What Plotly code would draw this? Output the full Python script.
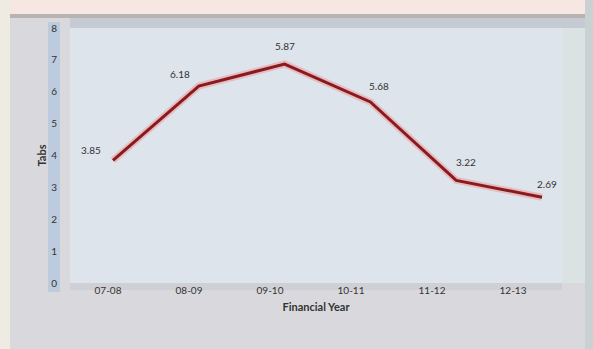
import plotly.graph_objects as go

years = ["07-08", "08-09", "09-10", "10-11", "11-12", "12-13"]
tabs = [3.85, 6.18, 6.87, 5.68, 3.22, 2.69]
value_labels = ["3.85", "6.18", "5.87", "5.68", "3.22", "2.69"]
y_ticks = [0, 1, 2, 3, 4, 5, 6, 7, 8]

# label offsets (pixels) relative to each point - styling only
label_dx = [-22, -19, 0, 9, 10, 5]
label_dy = [10, 12, 18, 16, 18, 13]

W, H = 593, 349
L, R, T, B = 70, 31, 28, 66
pw, ph = W - L - R, H - T - B


def px(x):
    return (x - L) / pw


def py(y):
    return (H - B - y) / ph


fig = go.Figure()
fig.add_trace(go.Scatter(x=years, y=tabs, mode="lines", xaxis="x2",
                         line=dict(color="rgba(240,140,140,0.45)", width=7),
                         hoverinfo="skip", showlegend=False))
fig.add_trace(go.Scatter(x=years, y=tabs, mode="lines", xaxis="x2",
                         line=dict(color="#8a1a1e", width=3),
                         showlegend=False))
# invisible trace to carry the category tick axis
fig.add_trace(go.Scatter(x=years, y=tabs, mode="markers", xaxis="x",
                         marker=dict(opacity=0), hoverinfo="skip", showlegend=False))

annotations = []
for yr, v, lab, dx, dy in zip(years, tabs, value_labels, label_dx, label_dy):
    annotations.append(dict(x=yr, y=v, xref="x2", yref="y", text=lab, showarrow=False,
                            xshift=dx, yshift=dy,
                            font=dict(family="Lato", size=10, color="#333333")))

shapes = [
    dict(type="rect", xref="paper", yref="paper", x0=px(0), x1=px(10), y0=py(H), y1=py(0),
         fillcolor="#eeece2", line_width=0, layer="below"),
    dict(type="rect", xref="paper", yref="paper", x0=px(585), x1=px(W), y0=py(H), y1=py(0),
         fillcolor="#c9d1d3", line_width=0, layer="below"),
    dict(type="rect", xref="paper", yref="paper", x0=px(10), x1=px(585), y0=py(15), y1=py(0),
         fillcolor="#f7e7e3", line_width=0, layer="below"),
    dict(type="rect", xref="paper", yref="paper", x0=px(10), x1=px(585), y0=py(18), y1=py(14),
         fillcolor="#b9b2b2", line_width=0, layer="below"),
    dict(type="rect", xref="paper", yref="paper", x0=px(70), x1=px(585), y0=py(28), y1=py(18),
         fillcolor="#c6cbd3", line_width=0, layer="below"),
    dict(type="rect", xref="paper", yref="paper", x0=px(562), x1=px(585), y0=py(283), y1=py(28),
         fillcolor="#dae3e1", line_width=0, layer="below"),
    dict(type="rect", xref="paper", yref="paper", x0=px(48), x1=px(60), y0=py(292), y1=py(22),
         fillcolor="#bccbdd", line_width=0, layer="below"),
    dict(type="rect", xref="paper", yref="paper", x0=px(70), x1=px(562), y0=py(283), y1=py(28),
         fillcolor="#dde4ec", line_width=0, layer="below"),
    dict(type="rect", xref="paper", yref="paper", x0=px(70), x1=px(562), y0=py(290), y1=py(283),
         fillcolor="#cfd0d6", line_width=0, layer="below"),
]

fig.update_layout(
    width=W, height=H,
    margin=dict(l=L, r=R, t=T, b=B),
    paper_bgcolor="#d9d9dd",
    plot_bgcolor="rgba(0,0,0,0)",
    font=dict(family="Lato", color="#333333", size=10),
    shapes=shapes,
    annotations=annotations,
    xaxis=dict(type="category", range=[-0.469, 5.605], showgrid=False, zeroline=False,
               showline=False, ticks="", tickfont=dict(size=10, color="#333333"),
               title=dict(text="<b>Financial Year</b>", font=dict(size=11, color="#333333"),
                          standoff=8)),
    xaxis2=dict(type="category", range=[-0.501, 5.233], overlaying="x", side="bottom",
                showticklabels=False, showgrid=False, zeroline=False, showline=False,
                ticks=""),
    yaxis=dict(range=[0, 8], tickvals=y_ticks, showgrid=False, zeroline=False,
               showline=False, ticks="", ticklabelstandoff=12,
               tickfont=dict(size=10, color="#333333"),
               title=dict(text="<b>Tabs</b>", font=dict(size=11, color="#333333"),
                          standoff=2)),
)

fig.write_html("out.html")
